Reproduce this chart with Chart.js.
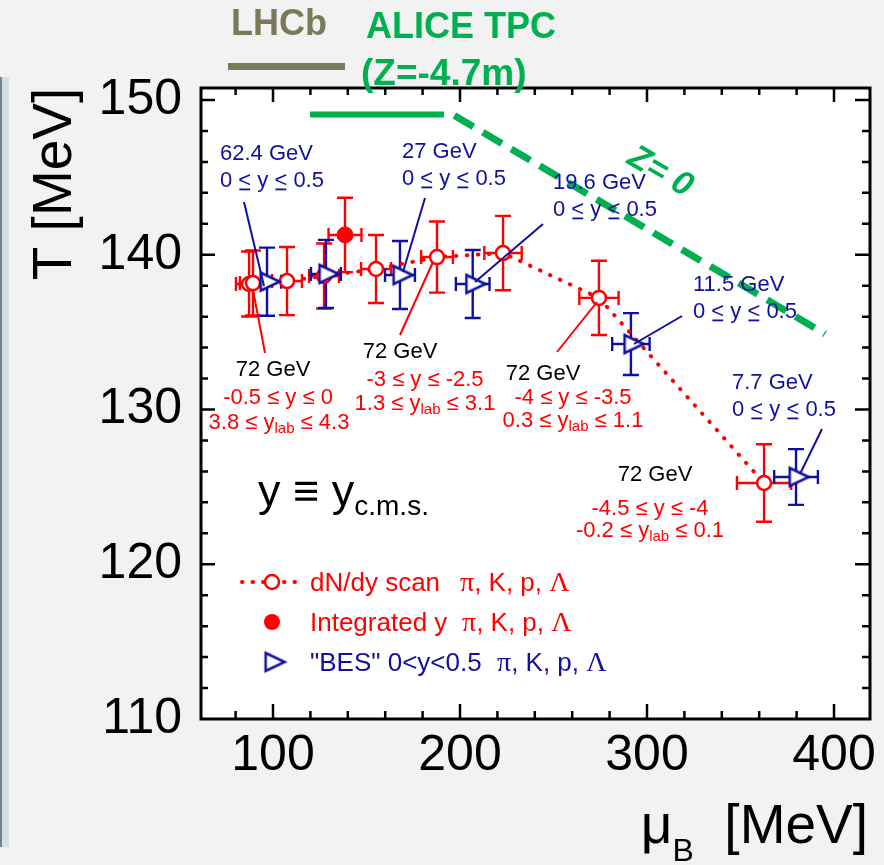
<!DOCTYPE html>
<html><head><meta charset="utf-8">
<script src="https://cdn.jsdelivr.net/npm/chart.js@4/dist/chart.umd.min.js"></script>
<style>html,body{margin:0;padding:0;background:#f2f2f2;}#wrap{width:884px;height:865px;}</style>
</head><body><div id="wrap"><canvas id="c" width="884" height="865"></canvas></div>
<script>
// ---------- data ----------
const scanMuB    = [87.2, 89.3, 107.5, 127.3, 155.1, 187.7, 223.0, 274.3, 362.6];
const scanT      = [138.11, 138.17, 138.30, 138.63, 139.08, 139.85, 140.11, 137.21, 125.25];
const scanTErr   = [2.1, 2.1, 2.2, 2.1, 2.2, 2.3, 2.4, 2.4, 2.5];
const scanMuBErr = [7, 7, 8, 8, 8, 8.5, 10, 10.5, 14.5];
const intMuB = [138.5];
const intT = [141.28];
const intTErr = [2.4];
const intMuBErr = [8.8];
const besMuB    = [96.8, 128.3, 167.9, 206.8, 291.4, 379.7];
const besT      = [138.26, 138.76, 138.69, 138.11, 134.23, 125.64];
const besTErr   = [2.2, 2.2, 2.2, 2.2, 2.0, 1.8];
const besMuBErr = [7.5, 8, 8, 9, 10, 11.7];
const aliceMuB = [119.8, 191.5];
const aliceT   = [149.06, 149.06];
const z0MuB = [197.0, 395.2];
const z0T   = [149.0, 134.88];
const xTicks = [100, 200, 300, 400];
const yTicks = [110, 120, 130, 140, 150];

const RED = '#ff0000', BLUE = '#1010a0', GREEN = '#00b050';
const SANS = '"Liberation Sans", Arial, sans-serif';
const SERIF = '"Liberation Serif", "Times New Roman", serif';

const pts = (xs, ys) => xs.map((x, i) => ({x, y: ys[i]}));

// open right-pointing triangle marker
function makeTri(w, h, lw) {
  const c = document.createElement('canvas');
  const base = w / 3, apex = 2 * w / 3;
  const W = Math.ceil(2 * apex + lw * 2 + 2), H = Math.ceil(h + lw * 2 + 2);
  c.width = W; c.height = H;
  const g = c.getContext('2d');
  const cx = W / 2, cy = H / 2;
  g.beginPath();
  g.moveTo(cx - base, cy - h / 2);
  g.lineTo(cx + apex, cy);
  g.lineTo(cx - base, cy + h / 2);
  g.closePath();
  g.fillStyle = '#fff'; g.fill();
  g.lineWidth = lw; g.strokeStyle = BLUE; g.lineJoin = 'miter'; g.stroke();
  return c;
}
const tri = makeTri(19, 18, 2.5);

function rich(ctx, segs, x, base, size, color, align, family) {
  family = family || SANS;
  const parts = segs.map(s => (typeof s === 'string' ? {t: s} : s));
  let total = 0;
  parts.forEach(p => {
    p.sz = p.size || size;
    p.f = (p.bold ? 'bold ' : '') + (p.italic ? 'italic ' : '') + p.sz + 'px ' + (p.font || family);
    ctx.font = p.f; p.w = ctx.measureText(p.t).width; total += p.w;
  });
  let cx = align === 'center' ? x - total / 2 : (align === 'right' ? x - total : x);
  ctx.textAlign = 'left'; ctx.textBaseline = 'alphabetic'; ctx.fillStyle = color;
  parts.forEach(p => {
    ctx.font = p.f;
    ctx.fillText(p.t, cx, base + (p.dy || 0));
    if (p.u) ctx.fillRect(cx + 1, base + 1.5, p.w - 2, 1.8);
    cx += p.w;
  });
}

function errBars(chart, xs, ys, xe, ye, color) {
  const {ctx, scales: {x, y}} = chart;
  ctx.save(); ctx.strokeStyle = color; ctx.lineWidth = 2.4; ctx.beginPath();
  xs.forEach((xv, i) => {
    const px = x.getPixelForValue(xv), py = y.getPixelForValue(ys[i]);
    const x1 = x.getPixelForValue(xv - xe[i]), x2 = x.getPixelForValue(xv + xe[i]);
    const y1 = y.getPixelForValue(ys[i] + ye[i]), y2 = y.getPixelForValue(ys[i] - ye[i]);
    ctx.moveTo(x1, py); ctx.lineTo(x2, py);
    ctx.moveTo(px, y1); ctx.lineTo(px, y2);
    ctx.moveTo(px - 8, y1); ctx.lineTo(px + 8, y1);
    ctx.moveTo(px - 8, y2); ctx.lineTo(px + 8, y2);
    ctx.moveTo(x1, py - 7); ctx.lineTo(x1, py + 7);
    ctx.moveTo(x2, py - 7); ctx.lineTo(x2, py + 7);
  });
  ctx.stroke(); ctx.restore();
}

const deco = {
  id: 'deco',
  beforeDraw(chart) {
    const {ctx, chartArea: a} = chart;
    ctx.save();
    ctx.fillStyle = '#f2f2f2'; ctx.fillRect(0, 0, chart.width, chart.height);
    ctx.fillStyle = '#d3dfe2'; ctx.fillRect(0, 77, 9, 770);
    ctx.fillStyle = '#6f8098'; ctx.fillRect(0, 77, 2, 770);
    ctx.fillStyle = '#ffffff'; ctx.fillRect(a.left, a.top, a.right - a.left, a.bottom - a.top);
    ctx.restore();
  },
  beforeDatasetsDraw(chart) {
    errBars(chart, scanMuB, scanT, scanMuBErr, scanTErr, RED);
    errBars(chart, intMuB, intT, intMuBErr, intTErr, RED);
    errBars(chart, besMuB, besT, besMuBErr, besTErr, BLUE);
  },
  afterDatasetsDraw(chart) {
    const {ctx, chartArea: a, scales: {x, y}} = chart;
    ctx.save();
    // leader lines
    ctx.lineWidth = 2;
    const lead = (c, x1, y1, x2, y2) => { ctx.strokeStyle = c; ctx.beginPath(); ctx.moveTo(x1, y1); ctx.lineTo(x2, y2); ctx.stroke(); };
    lead(BLUE, 244, 202, 264, 286);
    lead(BLUE, 425, 198, 403, 272);
    lead(BLUE, 543, 224, 475, 282);
    lead(BLUE, 682, 316, 634, 344);
    lead(BLUE, 822, 429, 800, 474);
    lead(RED, 265, 353, 253, 290);
    lead(RED, 400, 335, 433, 262);
    lead(RED, 557, 352, 597, 302);

    // frame and ticks
    ctx.strokeStyle = '#000'; ctx.lineWidth = 3;
    ctx.strokeRect(a.left + 1, a.top + 1, a.right - a.left - 1, a.bottom - a.top - 1);
    ctx.lineWidth = 2.5; ctx.beginPath();
    for (let v = 80; v <= 400; v += 20) {
      const px = x.getPixelForValue(v), L = (v % 100 === 0) ? 15 : 8;
      ctx.moveTo(px, a.bottom); ctx.lineTo(px, a.bottom - L);
      ctx.moveTo(px, a.top); ctx.lineTo(px, a.top + L);
    }
    for (let v = 112; v <= 150; v += 2) {
      const py = y.getPixelForValue(v), L = (v % 10 === 0) ? 15 : 8;
      ctx.moveTo(a.left, py); ctx.lineTo(a.left + L, py);
      ctx.moveTo(a.right, py); ctx.lineTo(a.right - L, py);
    }
    ctx.stroke();

    // BES labels
    const und = [ '0 ', {t: '<', u: true}, ' y ', {t: '<', u: true}, ' 0.5' ];
    [[220, 160, '62.4 GeV'], [402, 158, '27 GeV'], [553, 189, '19.6 GeV'], [693, 291, '11.5 GeV'], [732, 389, '7.7 GeV']]
      .forEach(([lx, b, t]) => { rich(ctx, [t], lx, b, 22, BLUE, 'left'); rich(ctx, und, lx, b + 27, 22, BLUE, 'left'); });

    // 72 GeV labels
    const sub = t => ({t, size: 15, dy: 4});
    rich(ctx, ['72 GeV'], 273, 376, 22, '#000', 'center');
    rich(ctx, ['-0.5 \u2264 y \u2264 0'], 278, 404, 22, RED, 'center');
    rich(ctx, ['3.8 \u2264 y', sub('lab'), ' \u2264 4.3'], 279, 429, 22, RED, 'center');
    rich(ctx, ['72 GeV'], 400, 358, 22, '#000', 'center');
    rich(ctx, ['-3 \u2264 y \u2264 -2.5'], 425, 386, 22, RED, 'center');
    rich(ctx, ['1.3 \u2264 y', sub('lab'), ' \u2264 3.1'], 425, 410, 22, RED, 'center');
    rich(ctx, ['72 GeV'], 543, 380, 22, '#000', 'center');
    rich(ctx, ['-4 \u2264 y \u2264 -3.5'], 573, 404, 22, RED, 'center');
    rich(ctx, ['0.3 \u2264 y', sub('lab'), ' \u2264 1.1'], 573, 427, 22, RED, 'center');
    rich(ctx, ['72 GeV'], 655, 481, 22, '#000', 'center');
    rich(ctx, ['-4.5 \u2264 y \u2264 -4'], 650, 515, 22, RED, 'center');
    rich(ctx, ['-0.2 \u2264 y', sub('lab'), ' \u2264 0.1'], 650, 537, 22, RED, 'center');

    // y = y_cms
    rich(ctx, ['y \u2261 y', {t: 'c.m.s.', size: 28, dy: 9}], 258, 506, 45, '#000', 'left');

    // legend
    ctx.save();
    ctx.strokeStyle = RED; ctx.lineWidth = 4; ctx.lineCap = 'round'; ctx.setLineDash([0.5, 10]);
    ctx.beginPath(); ctx.moveTo(242, 582); ctx.lineTo(304, 582); ctx.stroke();
    ctx.restore();
    ctx.beginPath(); ctx.arc(272, 582, 7, 0, Math.PI * 2); ctx.fillStyle = '#fff'; ctx.fill();
    ctx.lineWidth = 2.5; ctx.strokeStyle = RED; ctx.stroke();
    ctx.beginPath(); ctx.arc(272, 622, 8, 0, Math.PI * 2); ctx.fillStyle = RED; ctx.fill();
    ctx.drawImage(tri, 272 - tri.width / 2, 662 - tri.height / 2);
    const pk = [{t: '\u03C0', font: SERIF, size: 28}, ', K, p, ', {t: '\u039B', font: SERIF, size: 28}];
    rich(ctx, ['dN/dy scan'], 310, 591, 26, RED, 'left');
    rich(ctx, pk, 460, 591, 26, RED, 'left');
    rich(ctx, ['Integrated y'], 310, 631, 26, RED, 'left');
    rich(ctx, pk, 462, 631, 26, RED, 'left');
    rich(ctx, ['"BES" 0<y<0.5'], 310, 671, 26, BLUE, 'left');
    rich(ctx, pk, 497, 671, 26, BLUE, 'left');

    // Z = 0 rotated label
    ctx.save();
    ctx.translate(660, 172); ctx.rotate(30 * Math.PI / 180);
    ctx.font = 'italic bold 34px ' + SANS; ctx.fillStyle = GREEN; ctx.textAlign = 'center'; ctx.textBaseline = 'middle';
    ctx.fillText('Z= 0', 0, 0);
    ctx.restore();

    // top labels
    rich(ctx, [{t: 'LHCb', bold: true}], 231, 35, 36, '#7a7a5a', 'left');
    ctx.fillStyle = '#7b7b5b'; ctx.fillRect(228, 63, 117, 7);
    rich(ctx, [{t: 'ALICE TPC', bold: true}], 366, 38, 36, GREEN, 'left');
    rich(ctx, [{t: '(Z=-4.7m)', bold: true}], 361, 85, 37, GREEN, 'left');

    // axis titles
    rich(ctx, ['\u03BC', {t: 'B', size: 32, dy: 18}, '  [MeV]'], 868, 843, 55, '#000', 'right');
    ctx.save();
    ctx.translate(71, 184); ctx.rotate(-Math.PI / 2);
    ctx.font = '55px ' + SANS; ctx.fillStyle = '#000'; ctx.textAlign = 'center'; ctx.textBaseline = 'alphabetic';
    ctx.fillText('T [MeV]', 0, 0);
    ctx.restore();

    ctx.restore();
  }
};

new Chart(document.getElementById('c'), {
  type: 'scatter',
  data: {
    datasets: [
      {label: 'BES', data: pts(besMuB, besT), pointStyle: tri, pointRadius: 10, order: 0},
      {label: 'Integrated', data: pts(intMuB, intT), pointStyle: 'circle', pointRadius: 8,
        pointBackgroundColor: RED, pointBorderColor: RED, pointBorderWidth: 1, order: 1},
      {label: 'scan', data: pts(scanMuB, scanT), pointStyle: 'circle', pointRadius: 7,
        pointBackgroundColor: '#fff', pointBorderColor: RED, pointBorderWidth: 2.5, order: 2},
      {label: 'scan line', data: pts(scanMuB, scanT), showLine: true, pointRadius: 0,
        borderColor: RED, borderWidth: 4, borderDash: [0.5, 10.5], borderCapStyle: 'round', order: 3},
      {label: 'ALICE', data: pts(aliceMuB, aliceT), showLine: true, pointRadius: 0,
        borderColor: GREEN, borderWidth: 6, order: 4},
      {label: 'Z=0', data: pts(z0MuB, z0T), showLine: true, pointRadius: 0,
        borderColor: GREEN, borderWidth: 7, borderDash: [22, 11], order: 5}
    ]
  },
  options: {
    responsive: false, animation: false, devicePixelRatio: 1, events: [],
    layout: {padding: {left: 0, right: 14, top: 87, bottom: 0}},
    plugins: {legend: {display: false}, tooltip: {enabled: false}},
    scales: {
      x: {
        type: 'linear', min: 60.96, max: 419.25,
        afterBuildTicks: s => { s.ticks = xTicks.map(v => ({value: v})); },
        afterFit: s => { s.height = 146; },
        grid: {display: false, drawTicks: false}, border: {display: false},
        ticks: {font: {family: SANS, size: 50}, color: '#000', padding: 7, maxRotation: 0, autoSkip: false}
      },
      y: {
        type: 'linear', min: 110, max: 150.84,
        afterBuildTicks: s => { s.ticks = yTicks.map(v => ({value: v})); },
        afterFit: s => { s.width = 200; },
        grid: {display: false, drawTicks: false}, border: {display: false},
        ticks: {font: {family: SANS, size: 50}, color: '#000', padding: 18, autoSkip: false}
      }
    }
  },
  plugins: [deco]
});
</script>
</body></html>
